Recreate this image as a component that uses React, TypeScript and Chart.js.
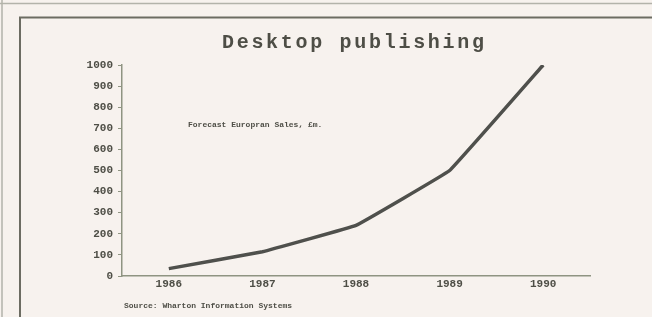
import React, { useEffect, useRef } from "react";
import { Chart, registerables } from "chart.js";

Chart.register(...registerables);

const years = ["1986", "1987", "1988", "1989", "1990"];
const salesValues = [35, 115, 240, 500, 1000];
const titleText = "Desktop publishing";
const noteText = "Forecast Europran Sales, £m.";
const sourceText = "Source: Wharton Information Systems";

const MONO = '"Liberation Mono", "DejaVu Sans Mono", monospace';
const INK = "#4e4e46";
const AXIS = "#8f9482";
const BG = "#f7f2ee";

const decorPlugin = {
  id: "decor",
  beforeDraw(chart: any) {
    const { ctx, width, height } = chart;
    ctx.save();
    ctx.fillStyle = BG;
    ctx.fillRect(0, 0, width, height);
    // outer page edge
    ctx.strokeStyle = "#b3b3aa";
    ctx.lineWidth = 1.5;
    ctx.beginPath();
    ctx.moveTo(0, 3.5);
    ctx.lineTo(width, 3.5);
    ctx.moveTo(2, 0);
    ctx.lineTo(2, height);
    ctx.stroke();
    // inner frame
    ctx.strokeStyle = "#6c6c62";
    ctx.lineWidth = 2;
    ctx.beginPath();
    ctx.moveTo(20, height);
    ctx.lineTo(20, 17.5);
    ctx.lineTo(width, 17.5);
    ctx.stroke();
    ctx.restore();
  },
  afterDraw(chart: any) {
    const { ctx, chartArea } = chart;
    ctx.save();
    ctx.fillStyle = INK;
    // title
    ctx.font = `bold 20px ${MONO}`;
    (ctx as any).letterSpacing = "2.7px";
    ctx.textAlign = "left";
    ctx.textBaseline = "alphabetic";
    ctx.fillText(titleText, 222, 48);
    (ctx as any).letterSpacing = "0px";
    // annotation
    ctx.font = `bold 8px ${MONO}`;
    ctx.textBaseline = "middle";
    ctx.fillText(noteText, chartArea.left + 66, 125);
    // source
    ctx.fillText(sourceText, chartArea.left + 2, 306);
    ctx.restore();
  },
};

export default function App() {
  const canvasRef = useRef<HTMLCanvasElement | null>(null);

  useEffect(() => {
    if (!canvasRef.current) return;
    const chart = new Chart(canvasRef.current, {
      type: "line",
      data: {
        labels: years,
        datasets: [
          {
            label: "Forecast European Sales, £m",
            data: salesValues,
            borderColor: "#4f504c",
            borderWidth: 3.5,
            pointRadius: 0,
            tension: 0.05,
            fill: false,
          },
        ],
      },
      options: {
        responsive: false,
        animation: false,
        layout: { padding: { left: 0, right: 62, top: 65, bottom: 21 } },
        plugins: {
          legend: { display: false },
          title: { display: false },
          tooltip: { enabled: false },
        },
        scales: {
          x: {
            type: "category",
            offset: true,
            grid: { display: false },
            border: { display: true, color: AXIS, width: 1.5 },
            ticks: {
              color: INK,
              padding: -6,
              font: { family: MONO, size: 11, weight: "bold" },
              maxRotation: 0,
            },
            afterFit(scale: any) {
              scale.height = 20;
            },
          },
          y: {
            min: 0,
            max: 1000,
            ticks: {
              stepSize: 100,
              color: INK,
              padding: 5,
              font: { family: MONO, size: 11, weight: "bold" },
              callback: (v: any) => String(v),
            },
            grid: {
              drawOnChartArea: false,
              drawTicks: true,
              tickLength: 4,
              color: AXIS,
            },
            border: { display: true, color: AXIS, width: 1.5 },
            afterFit(scale: any) {
              scale.width = 122;
            },
          },
        },
      },
      plugins: [decorPlugin],
    });
    return () => chart.destroy();
  }, []);

  return (
    <div style={{ position: "fixed", left: 0, top: 0, width: 652, height: 317, background: BG }}>
      <canvas ref={canvasRef} width={652} height={317} style={{ display: "block" }} />
    </div>
  );
}
